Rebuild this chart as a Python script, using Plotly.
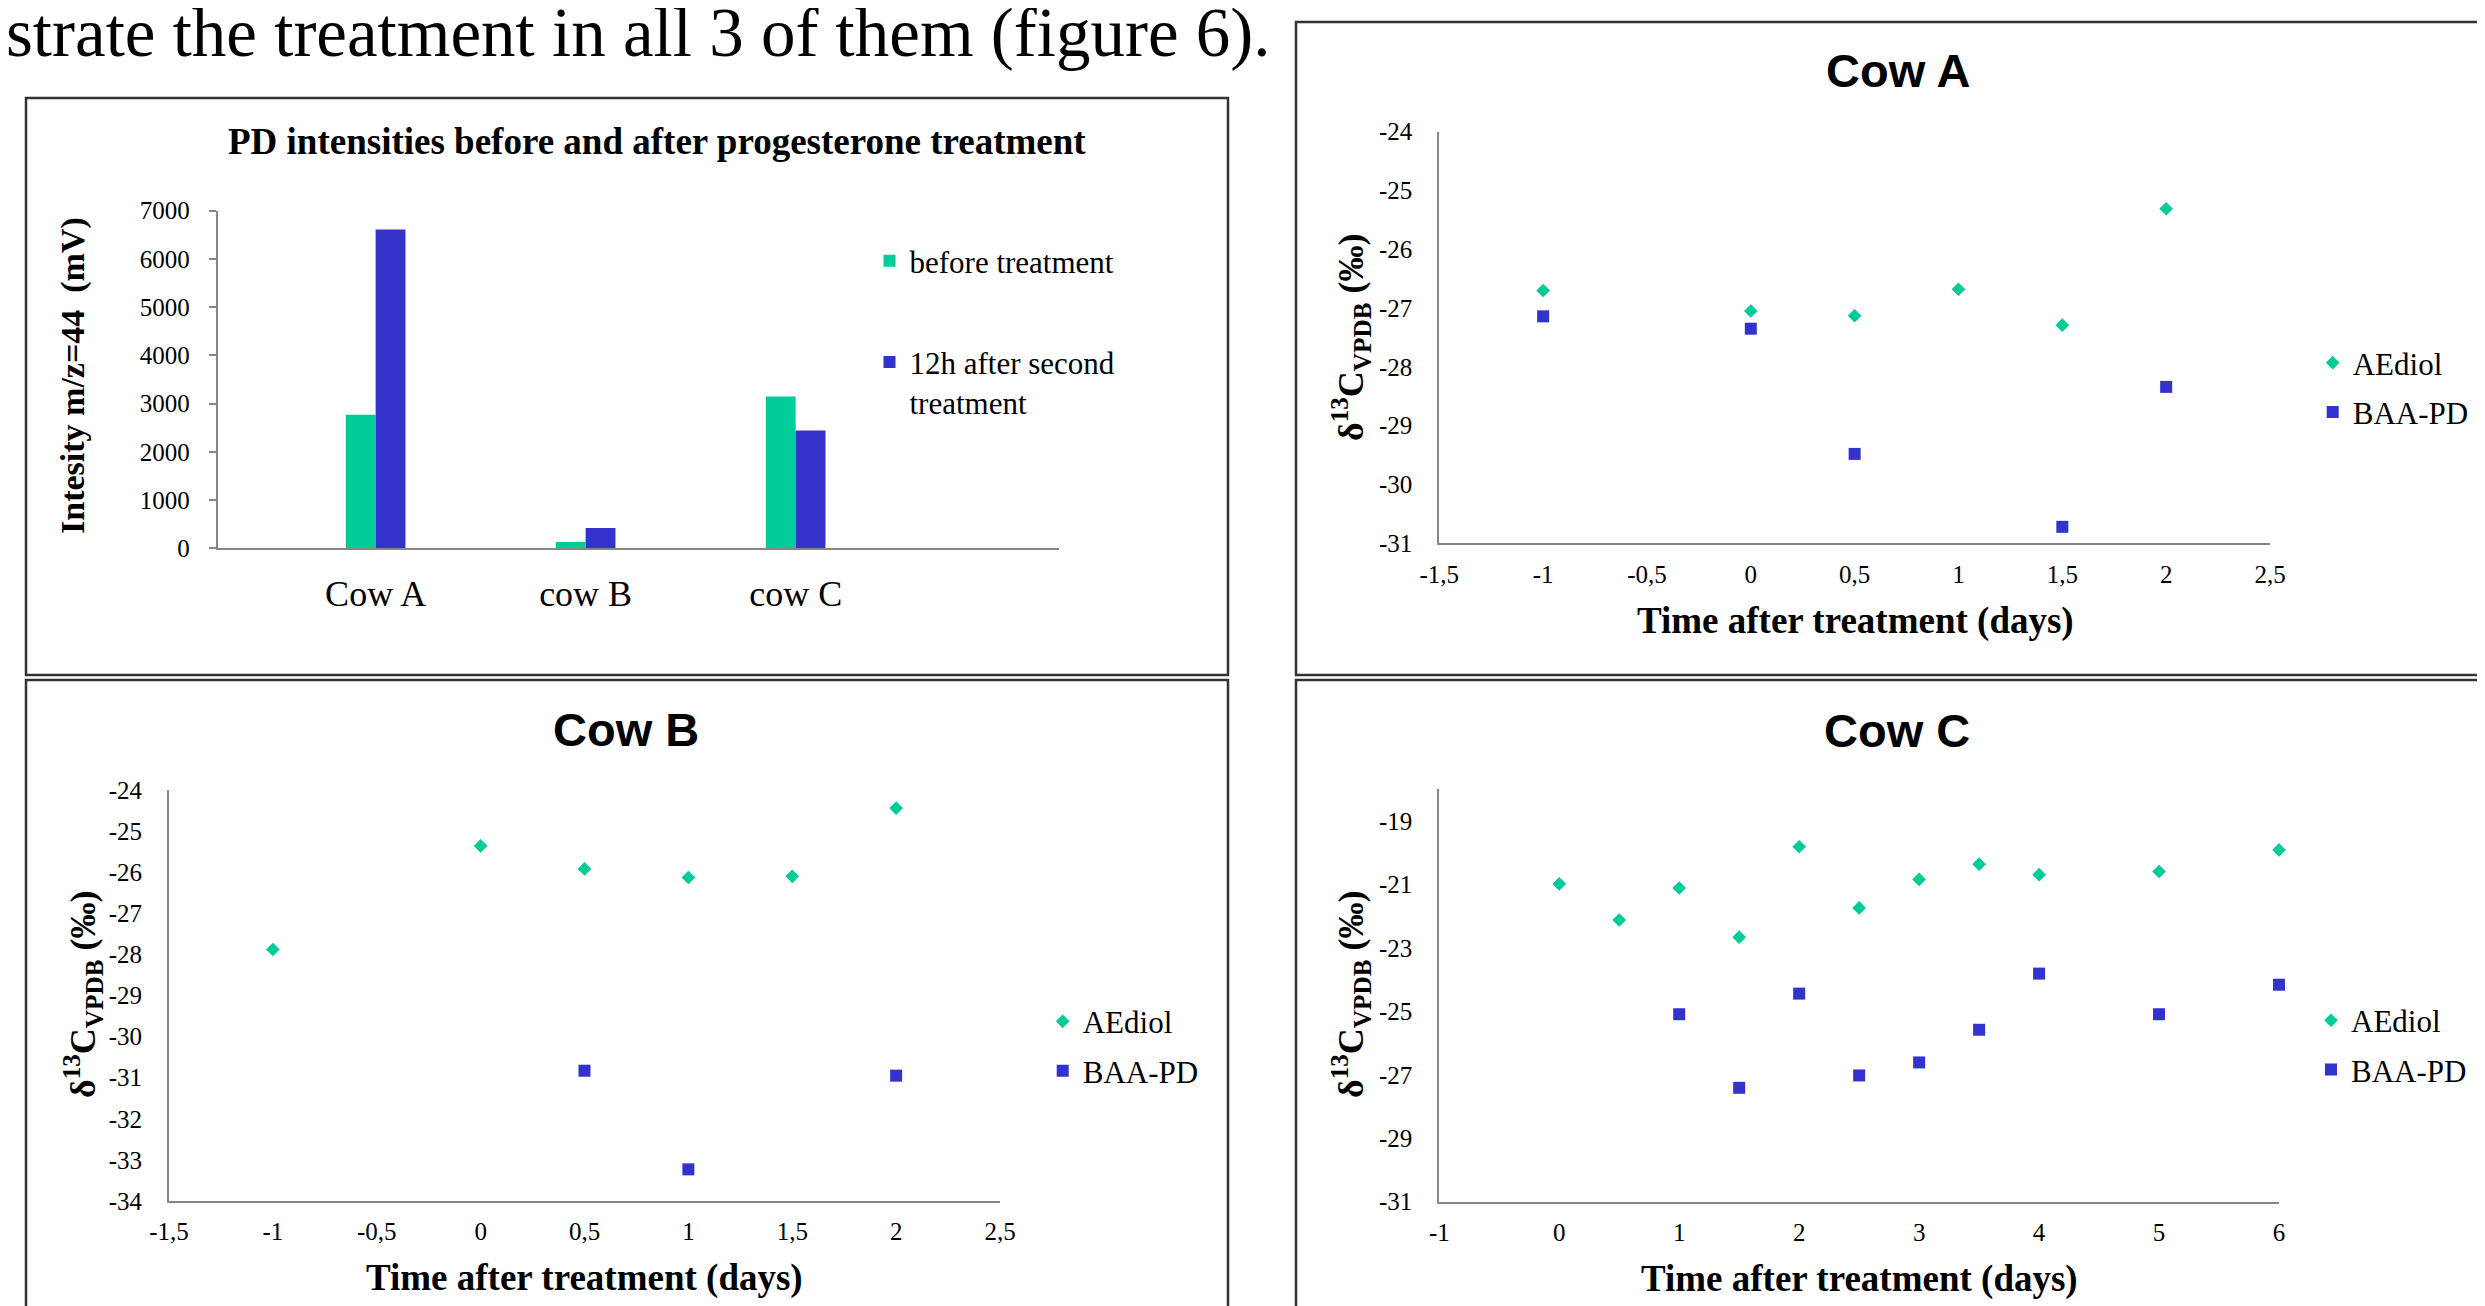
import plotly.graph_objects as go

W, H = 2485, 1306
OFF = 8  # page body margin of the html page

# ---------------- data ----------------
bar_categories = ["Cow A", "cow B", "cow C"]
bar_before = [2770, 130, 3150]
bar_after = [6610, 420, 2445]
bar_series_names = ["before treatment", "12h after second<br>treatment"]

cowA_ae_x = [-1, 0, 0.5, 1, 1.5, 2]
cowA_ae_y = [-26.70, -27.05, -27.13, -26.68, -27.29, -25.31]
cowA_baa_x = [-1, 0, 0.5, 1.5, 2]
cowA_baa_y = [-27.14, -27.35, -29.48, -30.72, -28.34]

cowB_ae_x = [-1, 0, 0.5, 1, 1.5, 2]
cowB_ae_y = [-27.88, -25.36, -25.92, -26.13, -26.10, -24.44]
cowB_baa_x = [0.5, 1, 2]
cowB_baa_y = [-30.83, -33.23, -30.95]

cowC_ae_x = [0, 0.5, 1, 1.5, 2, 2.5, 3, 3.5, 4, 5, 6]
cowC_ae_y = [-20.98, -22.12, -21.11, -22.66, -19.81, -21.74, -20.84, -20.36, -20.69, -20.59, -19.91]
cowC_baa_x = [1, 1.5, 2, 2.5, 3, 3.5, 4, 5, 6]
cowC_baa_y = [-25.09, -27.41, -24.44, -27.02, -26.61, -25.58, -23.81, -25.09, -24.16]

bar_y_ticks = [0, 1000, 2000, 3000, 4000, 5000, 6000, 7000]
ab_x_ticks = [-1.5, -1, -0.5, 0, 0.5, 1, 1.5, 2, 2.5]
ab_x_labels = ["-1,5", "-1", "-0,5", "0", "0,5", "1", "1,5", "2", "2,5"]
cowA_y_ticks = [-24, -25, -26, -27, -28, -29, -30, -31]
cowA_y_labels = ["-24", "-25", "-26", "-27", "-28", "-29", "-30", "-31"]
cowB_y_ticks = [-24, -25, -26, -27, -28, -29, -30, -31, -32, -33, -34]
cowB_y_labels = ["-24", "-25", "-26", "-27", "-28", "-29", "-30", "-31", "-32", "-33", "-34"]
cowC_x_ticks = [-1, 0, 1, 2, 3, 4, 5, 6]
cowC_x_labels = ["-1", "0", "1", "2", "3", "4", "5", "6"]
cowC_y_ticks = [-19, -21, -23, -25, -27, -29, -31]
cowC_y_labels = ["-19", "-21", "-23", "-25", "-27", "-29", "-31"]

intro_text = "strate the treatment in all 3 of them (figure 6)."
bar_title = "PD intensities before and after progesterone treatment"
bar_ytitle = "Intesity m/z=44  (mV)"
scatter_ytitle = "δ<sup>13</sup>C<sub>VPDB</sub> (‰)"
scatter_xtitle = "Time after treatment (days)"
series_names = ["AEdiol", "BAA-PD"]

# ---------------- styles ----------------
GREEN = "#00CC99"
BLUE = "#3333CC"
AXIS = "#868686"
SERIF = "Liberation Serif, Times New Roman, serif"
SANS = "Liberation Sans, Arial, sans-serif"


def px_x(p):
    return (p - OFF) / W


def px_y(p):
    return 1 - (p - OFF) / H


fig = go.Figure()

# bar chart
fig.add_trace(go.Bar(x=bar_categories, y=bar_before, name=bar_series_names[0],
                     marker=dict(color=GREEN, line=dict(width=0)),
                     xaxis="x", yaxis="y", legend="legend", legendgroup="b1"))
fig.add_trace(go.Bar(x=bar_categories, y=bar_after, name=bar_series_names[1],
                     marker=dict(color=BLUE, line=dict(width=0)),
                     xaxis="x", yaxis="y", legend="legend", legendgroup="b2"))

DIAMOND = dict(symbol="diamond", size=10.5, color=GREEN)
SQUARE = dict(symbol="square", size=12, color=BLUE)

panels = [
    ("x2", "y2", "legend2", cowA_ae_x, cowA_ae_y, cowA_baa_x, cowA_baa_y),
    ("x3", "y3", "legend3", cowB_ae_x, cowB_ae_y, cowB_baa_x, cowB_baa_y),
    ("x4", "y4", "legend4", cowC_ae_x, cowC_ae_y, cowC_baa_x, cowC_baa_y),
]
for xa, ya, lg, aex, aey, bx, by in panels:
    fig.add_trace(go.Scatter(x=aex, y=aey, mode="markers", name=series_names[0],
                             marker=DIAMOND, xaxis=xa, yaxis=ya, legend=lg,
                             legendgroup=lg + "a", cliponaxis=False))
    fig.add_trace(go.Scatter(x=bx, y=by, mode="markers", name=series_names[1],
                             marker=SQUARE, xaxis=xa, yaxis=ya, legend=lg,
                             legendgroup=lg + "b", cliponaxis=False))

tickfont = dict(family=SERIF, size=25, color="#000000")
common_x = dict(showgrid=False, zeroline=False, showline=True, linecolor=AXIS,
                linewidth=2, ticks="", tickfont=tickfont, fixedrange=True,
                automargin=False)
common_y = dict(showgrid=False, zeroline=False, showline=True, linecolor=AXIS,
                linewidth=2, tickfont=tickfont, fixedrange=True,
                automargin=False)

layout = dict(
    template="none",
    width=W, height=H, autosize=False,
    margin=dict(l=0, r=0, t=0, b=0, pad=0),
    paper_bgcolor="white", plot_bgcolor="white",
    font=dict(family=SERIF, color="#000000"),
    barmode="group", bargap=0.716, bargroupgap=0,
    showlegend=True,
    xaxis=dict(common_x, domain=[px_x(217.7), px_x(1059)], anchor="y",
               type="category", range=[-0.752, 3.254],
               tickfont=dict(family=SERIF, size=36, color="#000000"),
               ticklabelstandoff=12),
    yaxis=dict(common_y, domain=[px_y(548.3), px_y(210.7)], anchor="x",
               range=[0, 7000], tickvals=bar_y_ticks, ticks="outside",
               ticklen=7, tickwidth=2, tickcolor=AXIS, ticklabelstandoff=14),
    xaxis2=dict(common_x, domain=[px_x(1439.3), px_x(2270)], anchor="y2",
                range=[-1.5, 2.5], tickvals=ab_x_ticks, ticktext=ab_x_labels,
                ticklabelstandoff=8),
    yaxis2=dict(common_y, domain=[px_y(543.3), px_y(131.7)], anchor="x2",
                range=[-31, -24], tickvals=cowA_y_ticks, ticktext=cowA_y_labels,
                ticks="", ticklabelstandoff=20),
    xaxis3=dict(common_x, domain=[px_x(169), px_x(1000)], anchor="y3",
                range=[-1.5, 2.5], tickvals=ab_x_ticks, ticktext=ab_x_labels,
                ticklabelstandoff=7),
    yaxis3=dict(common_y, domain=[px_y(1201), px_y(790)], anchor="x3",
                range=[-34, -24], tickvals=cowB_y_ticks, ticktext=cowB_y_labels,
                ticks="", ticklabelstandoff=20),
    xaxis4=dict(common_x, domain=[px_x(1439.3), px_x(2279)], anchor="y4",
                range=[-1, 6], tickvals=cowC_x_ticks, ticktext=cowC_x_labels,
                ticklabelstandoff=7),
    yaxis4=dict(common_y, domain=[px_y(1201.7), px_y(789.3)], anchor="x4",
                range=[-31, -18], tickvals=cowC_y_ticks, ticktext=cowC_y_labels,
                ticks="", ticklabelstandoff=20),
)

legend_font = dict(family=SERIF, size=31, color="#000000")


def legend_at(px_left, px_top, gap):
    return dict(x=px_x(px_left), y=px_y(px_top), xanchor="left", yanchor="top",
                xref="paper", yref="paper", bgcolor="rgba(0,0,0,0)",
                borderwidth=0, font=legend_font, tracegroupgap=gap,
                valign="top", traceorder="grouped", itemclick=False,
                itemdoubleclick=False)


layout["legend"] = legend_at(894.5 - 25, 262 - 28, 58)
layout["legend2"] = legend_at(2337.7 - 25, 362 - 26, 6)
layout["legend3"] = legend_at(1067.7 - 25, 1020.7 - 26, 6)
layout["legend4"] = legend_at(2336 - 25, 1019.6 - 26, 6)

fig.update_layout(**layout)

# ---------------- panel frames ----------------
frames = [(26, 98, 1228, 675), (1296, 22, 2500, 675),
          (26, 680, 1228, 1320), (1296, 680, 2500, 1320)]
for x0, y0, x1, y1 in frames:
    fig.add_shape(type="rect", xref="paper", yref="paper",
                  x0=px_x(x0), x1=px_x(x1), y0=px_y(y1), y1=px_y(y0),
                  line=dict(color="#333333", width=2.5), fillcolor="rgba(0,0,0,0)",
                  layer="above")


# ---------------- text ----------------
def ann(text, x, y, size, family, bold=False, angle=0, xanchor="center"):
    fig.add_annotation(text=f"<b>{text}</b>" if bold else text,
                       x=px_x(x), y=px_y(y), xref="paper", yref="paper",
                       xanchor=xanchor, yanchor="middle", showarrow=False,
                       textangle=angle,
                       font=dict(family=family, size=size, color="#000000"))


ann(intro_text, OFF - 4, 33, 69, SERIF, xanchor="left")
ann(bar_title, 657, 141, 37, SERIF, bold=True)
ann(bar_ytitle, 73, 376, 34, SERIF, bold=True, angle=-90)
ann("Cow A", 1898, 71, 47, SANS, bold=True)
ann("Cow B", 626, 729, 47, SANS, bold=True)
ann("Cow C", 1897, 730, 47, SANS, bold=True)
ann(scatter_xtitle, 1855, 621, 37, SERIF, bold=True)
ann(scatter_xtitle, 584, 1278, 37, SERIF, bold=True)
ann(scatter_xtitle, 1859, 1279, 37, SERIF, bold=True)
ann(scatter_ytitle, 1351, 338, 36, SERIF, bold=True, angle=-90)
ann(scatter_ytitle, 83, 995, 36, SERIF, bold=True, angle=-90)
ann(scatter_ytitle, 1351, 995, 36, SERIF, bold=True, angle=-90)

fig.write_html("out.html")
